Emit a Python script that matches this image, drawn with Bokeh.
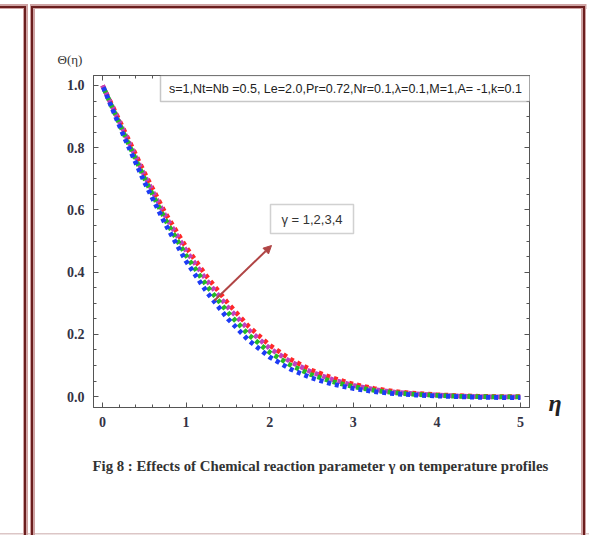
from bokeh.plotting import figure
from bokeh.models import (Range1d, FixedTicker, LinearAxis, Label, BoxAnnotation,
                          Arrow, NormalHead, PrintfTickFormatter, Title)
from bokeh.embed import file_html
from bokeh.resources import INLINE

# ---- data ----
eta = [0.0, 0.25, 0.5, 0.75, 1.0, 1.25, 1.5, 1.75, 2.0, 2.25, 2.5,
       2.75, 3.0, 3.25, 3.5, 3.75, 4.0, 4.25, 4.5, 4.75, 5.0]
theta_gamma1 = [1.0, 0.84, 0.69, 0.555, 0.435, 0.335, 0.25, 0.18, 0.127, 0.088, 0.06,
                0.04, 0.026, 0.016, 0.009, 0.005, 0.002, 0.0, -0.002, -0.003, -0.003]
theta_gamma2 = [1.0, 0.848, 0.702, 0.569, 0.453, 0.355, 0.27, 0.198, 0.142, 0.101, 0.07,
                0.048, 0.032, 0.02, 0.012, 0.007, 0.004, 0.001, 0.0, -0.001, -0.001]
theta_gamma3 = [1.0, 0.855, 0.712, 0.581, 0.469, 0.372, 0.287, 0.214, 0.155, 0.112, 0.079,
                0.055, 0.036, 0.023, 0.014, 0.009, 0.005, 0.002, 0.0, -0.001, -0.001]
theta_gamma4 = [1.0, 0.86, 0.72, 0.59, 0.48, 0.385, 0.30, 0.225, 0.165, 0.12, 0.085,
                0.06, 0.04, 0.026, 0.016, 0.01, 0.006, 0.003, 0.001, 0.0, 0.0]
series = [theta_gamma4, theta_gamma3, theta_gamma2, theta_gamma1]
series_colors = ["#FF2828", "#C040C0", "#25BB25", "#1E3CF5"]

x_ticks = [0, 1, 2, 3, 4, 5]
y_ticks = [0.0, 0.2, 0.4, 0.6, 0.8, 1.0]
x_minor = [round(i * 0.2, 2) for i in range(26)]
y_minor = [round(i * 0.05, 2) for i in range(21)]

legend_text = "s=1,Nt=Nb =0.5, Le=2.0,Pr=0.72,Nr=0.1,\u03bb=0.1,M=1,A= -1,k=0.1"
gamma_text = "\u03b3 = 1,2,3,4"
caption_text = "Fig 8 : Effects of Chemical reaction parameter \u03b3  on temperature profiles"
y_title = "\u0398(\u03b7)"
x_title = "\u03b7"

AX = "#555555"

# decorative page frame drawn as CSS background layers (x, y, w, h, colour)
DARK, HALO = "#6B1E1E", "#CFA3A3"
frame_lines = [
    (24, 5.5, 2, 530, DARK), (0, 5.5, 25, 2, DARK),
    (31, 5.5, 2, 530, DARK), (31, 5.5, 553, 2, DARK), (582.5, 5.5, 2, 530, DARK),
    (22.5, 4, 5, 531, HALO), (0, 4, 27.5, 5, HALO),
    (29.5, 4, 5, 531, HALO), (29.5, 4, 556.5, 5, HALO), (581, 4, 5, 531, HALO),
    (0, 533, 589, 1.5, "#DCC6C6"),
]
bg = ", ".join(f"linear-gradient({c},{c}) {x}px {y}px / {w}px {h}px no-repeat"
               for (x, y, w, h, c) in frame_lines)

p = figure(width=589, height=535, output_backend="svg", toolbar_location=None,
           x_range=Range1d(-0.108, 5.108), y_range=Range1d(-0.035, 1.032),
           min_border_left=93, min_border_right=60, min_border_top=75, min_border_bottom=128,
           background_fill_color="white", border_fill_color=None,
           outline_line_color=AX, styles={"background": bg})
p.grid.visible = False

p.add_layout(LinearAxis(), "above")
p.add_layout(LinearAxis(), "right")


def style_axis(ax, ticks, minor, fmt, show_labels):
    ax.ticker = FixedTicker(ticks=ticks, minor_ticks=minor)
    ax.formatter = PrintfTickFormatter(format=fmt if show_labels else "")
    ax.axis_line_color = AX
    ax.major_tick_line_color = AX
    ax.minor_tick_line_color = AX
    ax.major_tick_in = 5
    ax.major_tick_out = 0
    ax.minor_tick_in = 3
    ax.minor_tick_out = 0
    ax.major_label_text_font = "Liberation Serif"
    ax.major_label_text_font_style = "bold"
    ax.major_label_text_font_size = "14px"
    ax.major_label_text_color = "#333344"
    ax.major_label_standoff = 9 if show_labels else 0


style_axis(p.below[0], x_ticks, x_minor, "%d", True)
style_axis(p.above[0], x_ticks, x_minor, "%d", False)
style_axis(p.left[0], y_ticks, y_minor, "%.1f", True)
style_axis(p.right[0], y_ticks, y_minor, "%.1f", False)

# eta axis title, drawn as the single label of an extra right axis
eta_axis = LinearAxis(ticker=FixedTicker(ticks=[-0.022]),
                      formatter=PrintfTickFormatter(format=x_title),
                      axis_line_color=None, major_tick_line_color=None,
                      minor_tick_line_color=None,
                      major_label_text_font="Liberation Serif",
                      major_label_text_font_style="bold italic",
                      major_label_text_font_size="24px",
                      major_label_text_color="#222222",
                      major_label_standoff=13)
p.add_layout(eta_axis, "right")

offsets = [0, 2, 4, 6]
for ys, c, off in zip(series, series_colors, offsets):
    p.line(eta, ys, line_color=c, line_width=4.8, line_dash="4 4", line_dash_offset=off)

# ---- parameter box ----
p.add_layout(BoxAnnotation(left=67, right=437, top=332, bottom=306,
                           left_units="screen", right_units="screen",
                           top_units="screen", bottom_units="screen",
                           fill_color="white", fill_alpha=1,
                           line_color="#444444", line_width=1.5))
p.add_layout(Label(x=252, y=319, x_units="screen", y_units="screen", text=legend_text,
                   text_font="Liberation Sans", text_font_size="12.5px",
                   text_align="center", text_baseline="middle", text_color="#222222"))

# ---- gamma box + arrow ----
p.add_layout(BoxAnnotation(left=177, right=260, top=203, bottom=174,
                           left_units="screen", right_units="screen",
                           top_units="screen", bottom_units="screen",
                           fill_color="white", fill_alpha=1,
                           line_color="#666666", line_width=1.5))
p.add_layout(Label(x=218.5, y=188.5, x_units="screen", y_units="screen", text=gamma_text,
                   text_font="Liberation Sans", text_font_size="13px",
                   text_align="center", text_baseline="middle", text_color="#333333"))
p.add_layout(Arrow(x_start=121, y_start=107, x_end=178, y_end=162,
                   start_units="screen", end_units="screen",
                   line_color="#B04545", line_width=2,
                   end=NormalHead(size=8, fill_color="#B04545", line_color="#B04545")))

# ---- titles ----
p.add_layout(Title(text=y_title, align="left", offset=-36, standoff=17,
                   text_font="Liberation Serif", text_font_size="13px",
                   text_font_style="normal", text_color="#333333"), "above")
p.add_layout(Title(text=caption_text, align="left", offset=-1, standoff=53,
                   text_font="Liberation Serif", text_font_size="14.8px",
                   text_font_style="bold", text_color="#333333"), "below")

open("out.html", "w").write(file_html(p, INLINE))
